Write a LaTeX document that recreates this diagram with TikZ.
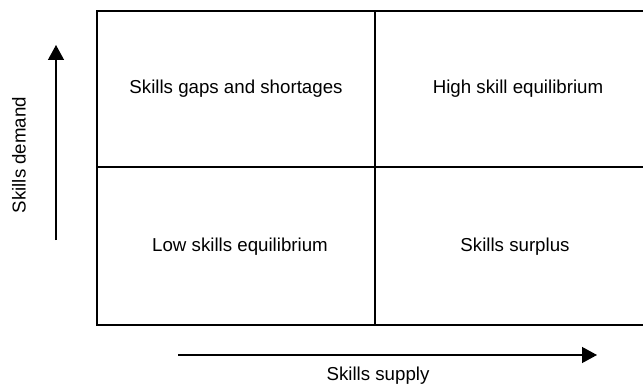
\documentclass[tikz,border=0pt]{standalone}
\usepackage{fontspec}
\setmainfont{Liberation Sans}
\usetikzlibrary{arrows.meta}
\begin{document}
\begin{tikzpicture}[x=1pt,y=-1pt,
  lbl/.style={inner sep=0pt,font=\fontsize{18.7}{22}\selectfont},
  frame/.style={line width=2.5pt,line cap=rect},
  divider/.style={line width=2pt},
  axis/.style={line width=1.3pt,-{Triangle[length=15pt,width=16pt]}}]
\useasboundingbox (0,0) rectangle (643,385);
% grid corners
\coordinate (tl) at (97,11);
\coordinate (tr) at (645,11);
\coordinate (bl) at (97,325);
\coordinate (br) at (645,325);
\coordinate (mt) at (375,11);
\coordinate (mb) at (375,325);
\coordinate (ml) at (97,167.5);
\coordinate (mr) at (645,167.5);
\draw[frame] (tr) -- (tl) -- (bl) -- (br);
\draw[divider] (mt) -- (mb);
\draw[divider] (ml) -- (mr);
% quadrant labels
\node[lbl] (gaps) at (236,89) {Skills gaps and shortages};
\node[lbl] (high) at (518,89) {High skill equilibrium};
\node[lbl] (low) at (240,247) {Low skills equilibrium};
\node[lbl] (surplus) at (515,247) {Skills surplus};
% axes
\coordinate (ya) at (56,240);
\coordinate (yb) at (56,45);
\draw[axis] (ya) -- (yb);
\coordinate (xa) at (178,355);
\coordinate (xb) at (597,355);
\draw[axis] (xa) -- (xb);
\node[lbl,rotate=90] (demand) at (19,155) {Skills demand};
\node[lbl] (supply) at (378,376) {Skills supply};
\end{tikzpicture}
\end{document}
